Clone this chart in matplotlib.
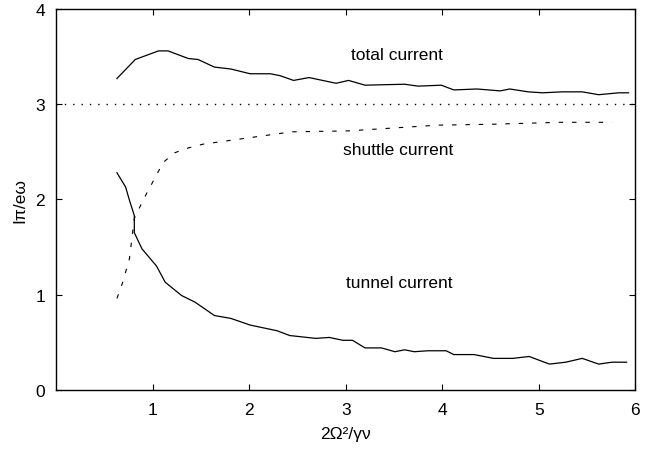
import matplotlib
matplotlib.use("Agg")
import matplotlib.pyplot as plt

plt.rcParams['font.family'] = ['Liberation Sans', 'DejaVu Sans']

# total current (solid)
total_x = [0.63, 0.82, 1.06, 1.16, 1.37, 1.47, 1.64, 1.81, 2.01, 2.22, 2.32, 2.46, 2.62,
           2.90, 3.03, 3.20, 3.61, 3.75, 3.99, 4.12, 4.36, 4.60, 4.70, 4.89, 5.04, 5.24,
           5.45, 5.62, 5.83, 5.93]
total_y = [3.27, 3.47, 3.56, 3.56, 3.48, 3.47, 3.39, 3.37, 3.32, 3.32, 3.30, 3.25, 3.28,
           3.22, 3.25, 3.20, 3.21, 3.19, 3.20, 3.15, 3.16, 3.14, 3.16, 3.13, 3.12, 3.13,
           3.13, 3.10, 3.12, 3.12]

# tunnel current (solid)
tunnel_x = [0.63, 0.72, 0.76, 0.81, 0.81, 0.89, 1.04, 1.13, 1.30, 1.44, 1.64, 1.81, 2.01,
            2.29, 2.42, 2.69, 2.83, 2.97, 3.07, 3.20, 3.37, 3.51, 3.61, 3.71, 3.85, 4.04,
            4.12, 4.33, 4.53, 4.73, 4.90, 5.11, 5.28, 5.45, 5.62, 5.76, 5.91]
tunnel_y = [2.28, 2.13, 1.99, 1.83, 1.65, 1.48, 1.30, 1.13, 0.99, 0.92, 0.78, 0.75, 0.68,
            0.62, 0.57, 0.54, 0.55, 0.52, 0.52, 0.44, 0.44, 0.40, 0.42, 0.40, 0.41, 0.41,
            0.37, 0.37, 0.33, 0.33, 0.35, 0.27, 0.29, 0.33, 0.27, 0.29, 0.29]

# shuttle current (dashed)
shuttle_x = [0.63, 0.69, 0.76, 0.81, 0.91, 1.01, 1.11, 1.23, 1.33, 1.52, 2.44, 3.03, 3.95,
             4.53, 5.21, 5.76]
shuttle_y = [0.96, 1.13, 1.38, 1.80, 2.01, 2.20, 2.39, 2.49, 2.53, 2.58, 2.71, 2.72, 2.78,
             2.79, 2.81, 2.81]

# reference level
ref_x = [0, 6]
ref_y = [3, 3]

fig = plt.figure(figsize=(6.45, 4.56), dpi=100)
ax = fig.add_axes([0.087, 0.143, 0.898, 0.835])

ax.plot(total_x, total_y, color='black', lw=0.9)
ax.plot(tunnel_x, tunnel_y, color='black', lw=0.9)
ax.plot(shuttle_x, shuttle_y, color='black', lw=0.8, linestyle=(0, (4, 8)))
ax.plot(ref_x, ref_y, color='black', lw=1.0, linestyle=(0, (1, 5)))

ax.text(3.05, 3.47, 'total current', fontsize=12.5)
ax.text(2.97, 2.48, 'shuttle current', fontsize=12.5)
ax.text(3.0, 1.08, 'tunnel current', fontsize=12.5)

ax.set_xlim(0, 6)
ax.set_ylim(0, 4)
ax.set_xticks([1, 2, 3, 4, 5, 6])
ax.set_yticks([0, 1, 2, 3, 4])
ax.tick_params(direction='in', top=True, right=True, labelsize=12.5, length=4)
ax.tick_params(axis='x', pad=9)
ax.tick_params(axis='y', pad=8)
for s in ax.spines.values():
    s.set_linewidth(1.0)

ax.set_xlabel('2Ω²/γν', fontsize=12.5, labelpad=6)
ax.set_ylabel('Iπ/eω', fontsize=12.5, labelpad=6)

fig.savefig('out.png', dpi=100)
